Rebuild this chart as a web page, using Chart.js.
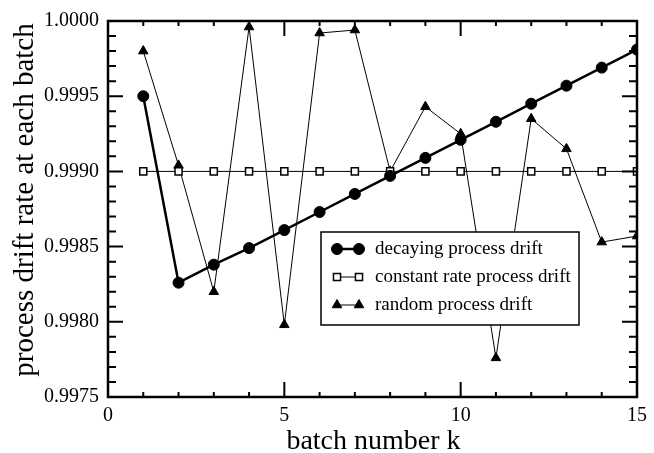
<!DOCTYPE html>
<html><head><meta charset="utf-8">
<script src="https://cdn.jsdelivr.net/npm/chart.js@4/dist/chart.umd.min.js"></script>
<style>html,body{margin:0;padding:0;background:#fff}#wrap{width:654px;height:453px}</style>
</head><body><div id="wrap"><canvas id="c" width="654" height="453"></canvas></div>
<script>
const batches = [1,2,3,4,5,6,7,8,9,10,11,12,13,14,15];
const decaying = [0.99950,0.99826,0.99838,0.99849,0.99861,0.99873,0.99885,0.99897,0.99909,0.99921,0.99933,0.99945,0.99957,0.99969,0.99981];
const constantRate = [0.9990,0.9990,0.9990,0.9990,0.9990,0.9990,0.9990,0.9990,0.9990,0.9990,0.9990,0.9990,0.9990,0.9990,0.9990];
const randomDrift = [0.99980,0.99904,0.99820,0.99996,0.99798,0.99992,0.99994,0.99900,0.99943,0.99925,0.99776,0.99935,0.99915,0.99853,0.99857];
const seriesLabels = ['decaying process drift','constant rate process drift','random process drift'];
const xTickValues = [0,5,10,15];
const yTickValues = [0.9975,0.9980,0.9985,0.9990,0.9995,1.0000];
const xTitle = 'batch number k';
const yTitle = 'process drift rate at each batch';

const serif = "'Liberation Serif','Times New Roman',serif";
const pts = arr => batches.map((b,i)=>({x:b,y:arr[i]}));

const framePlugin = {
  id:'frame',
  afterDatasetsDraw(chart){
    const ctx = chart.ctx, a = chart.chartArea;
    const xs = chart.scales.x, ys = chart.scales.y;
    ctx.save();
    ctx.strokeStyle = '#000';
    ctx.lineWidth = 2;
    for(let v=0; v<=15; v+=1){
      const px = xs.getPixelForValue(v);
      const len = (v%5===0)?15:5;
      ctx.beginPath();
      ctx.moveTo(px,a.bottom); ctx.lineTo(px,a.bottom-len);
      ctx.moveTo(px,a.top); ctx.lineTo(px,a.top+len);
      ctx.stroke();
    }
    for(let k=0; k<=25; k++){
      const v = 0.9975 + k*0.0001;
      const py = ys.getPixelForValue(v);
      const len = (k%5===0)?15:8;
      ctx.beginPath();
      ctx.moveTo(a.left,py); ctx.lineTo(a.left+len,py);
      ctx.moveTo(a.right,py); ctx.lineTo(a.right-len,py);
      ctx.stroke();
    }
    ctx.lineWidth = 2.5;
    ctx.strokeRect(a.left,a.top,a.right-a.left,a.bottom-a.top);

    // axis titles
    ctx.fillStyle='#000';
    ctx.font="28px "+serif;
    ctx.textAlign='center';
    ctx.textBaseline='alphabetic';
    ctx.fillText(xTitle,(a.left+a.right)/2+1,449);
    ctx.save();
    ctx.font="29px "+serif;
    ctx.translate(33,200);
    ctx.rotate(-Math.PI/2);
    ctx.fillText(yTitle,0,0);
    ctx.restore();

    // legend
    const bx=321, by=232, bw=258, bh=93;
    ctx.fillStyle='#fff';
    ctx.fillRect(bx,by,bw,bh);
    ctx.lineWidth=1.5;
    ctx.strokeStyle='#000';
    ctx.strokeRect(bx,by,bw,bh);
    const rows=[249,277,305];
    chart.data.datasets.forEach((ds,i)=>{
      const y=rows[i];
      ctx.strokeStyle='#000';
      ctx.lineWidth=ds.borderWidth;
      ctx.beginPath(); ctx.moveTo(337,y); ctx.lineTo(359,y); ctx.stroke();
      [337,359].forEach(x=>{
        ctx.fillStyle=ds.pointBackgroundColor;
        ctx.strokeStyle='#000';
        ctx.lineWidth=ds.pointBorderWidth;
        Chart.helpers.drawPoint(ctx,{pointStyle:ds.pointStyle,radius:ds.pointRadius,rotation:0,borderWidth:ds.pointBorderWidth},x,y);
      });
      ctx.fillStyle='#000';
      ctx.font="19px "+serif;
      ctx.textBaseline='middle';
      ctx.textAlign='left';
      ctx.fillText(ds.label,375,y);
    });
    ctx.restore();
  }
};

new Chart(document.getElementById('c'),{
  type:'line',
  data:{datasets:[
    {label:seriesLabels[0],data:pts(decaying),borderColor:'#000',borderWidth:2.5,pointStyle:'circle',pointRadius:5.5,pointBackgroundColor:'#000',pointBorderColor:'#000',pointBorderWidth:1,tension:0},
    {label:seriesLabels[1],data:pts(constantRate),borderColor:'#000',borderWidth:1,pointStyle:'rect',pointRadius:5,pointBackgroundColor:'#fff',pointBorderColor:'#000',pointBorderWidth:1.5,tension:0},
    {label:seriesLabels[2],data:pts(randomDrift),borderColor:'#000',borderWidth:1,pointStyle:'triangle',pointRadius:5.5,pointBackgroundColor:'#000',pointBorderColor:'#000',pointBorderWidth:1,tension:0}
  ]},
  options:{
    responsive:false,animation:false,
    layout:{padding:{top:18,right:11,left:0,bottom:0}},
    plugins:{legend:{display:false},tooltip:{enabled:false}},
    scales:{
      x:{type:'linear',min:0,max:15,
        afterFit(s){s.height=56;},
        afterBuildTicks(s){s.ticks=xTickValues.map(v=>({value:v}));},
        grid:{display:false,drawTicks:false},border:{display:false},
        ticks:{font:{family:serif,size:20},color:'#000',padding:7,maxRotation:0,callback:v=>String(v)},
        title:{display:false}
      },
      y:{type:'linear',min:0.9975,max:1.0,
        afterFit(s){s.width=108;},
        afterBuildTicks(s){s.ticks=yTickValues.map(v=>({value:v}));},
        grid:{display:false,drawTicks:false},border:{display:false},
        ticks:{font:{family:serif,size:20},color:'#000',padding:9,callback:v=>Number(v).toFixed(4)},
        title:{display:false}
      }
    }
  },
  plugins:[framePlugin]
});
</script></body></html>
